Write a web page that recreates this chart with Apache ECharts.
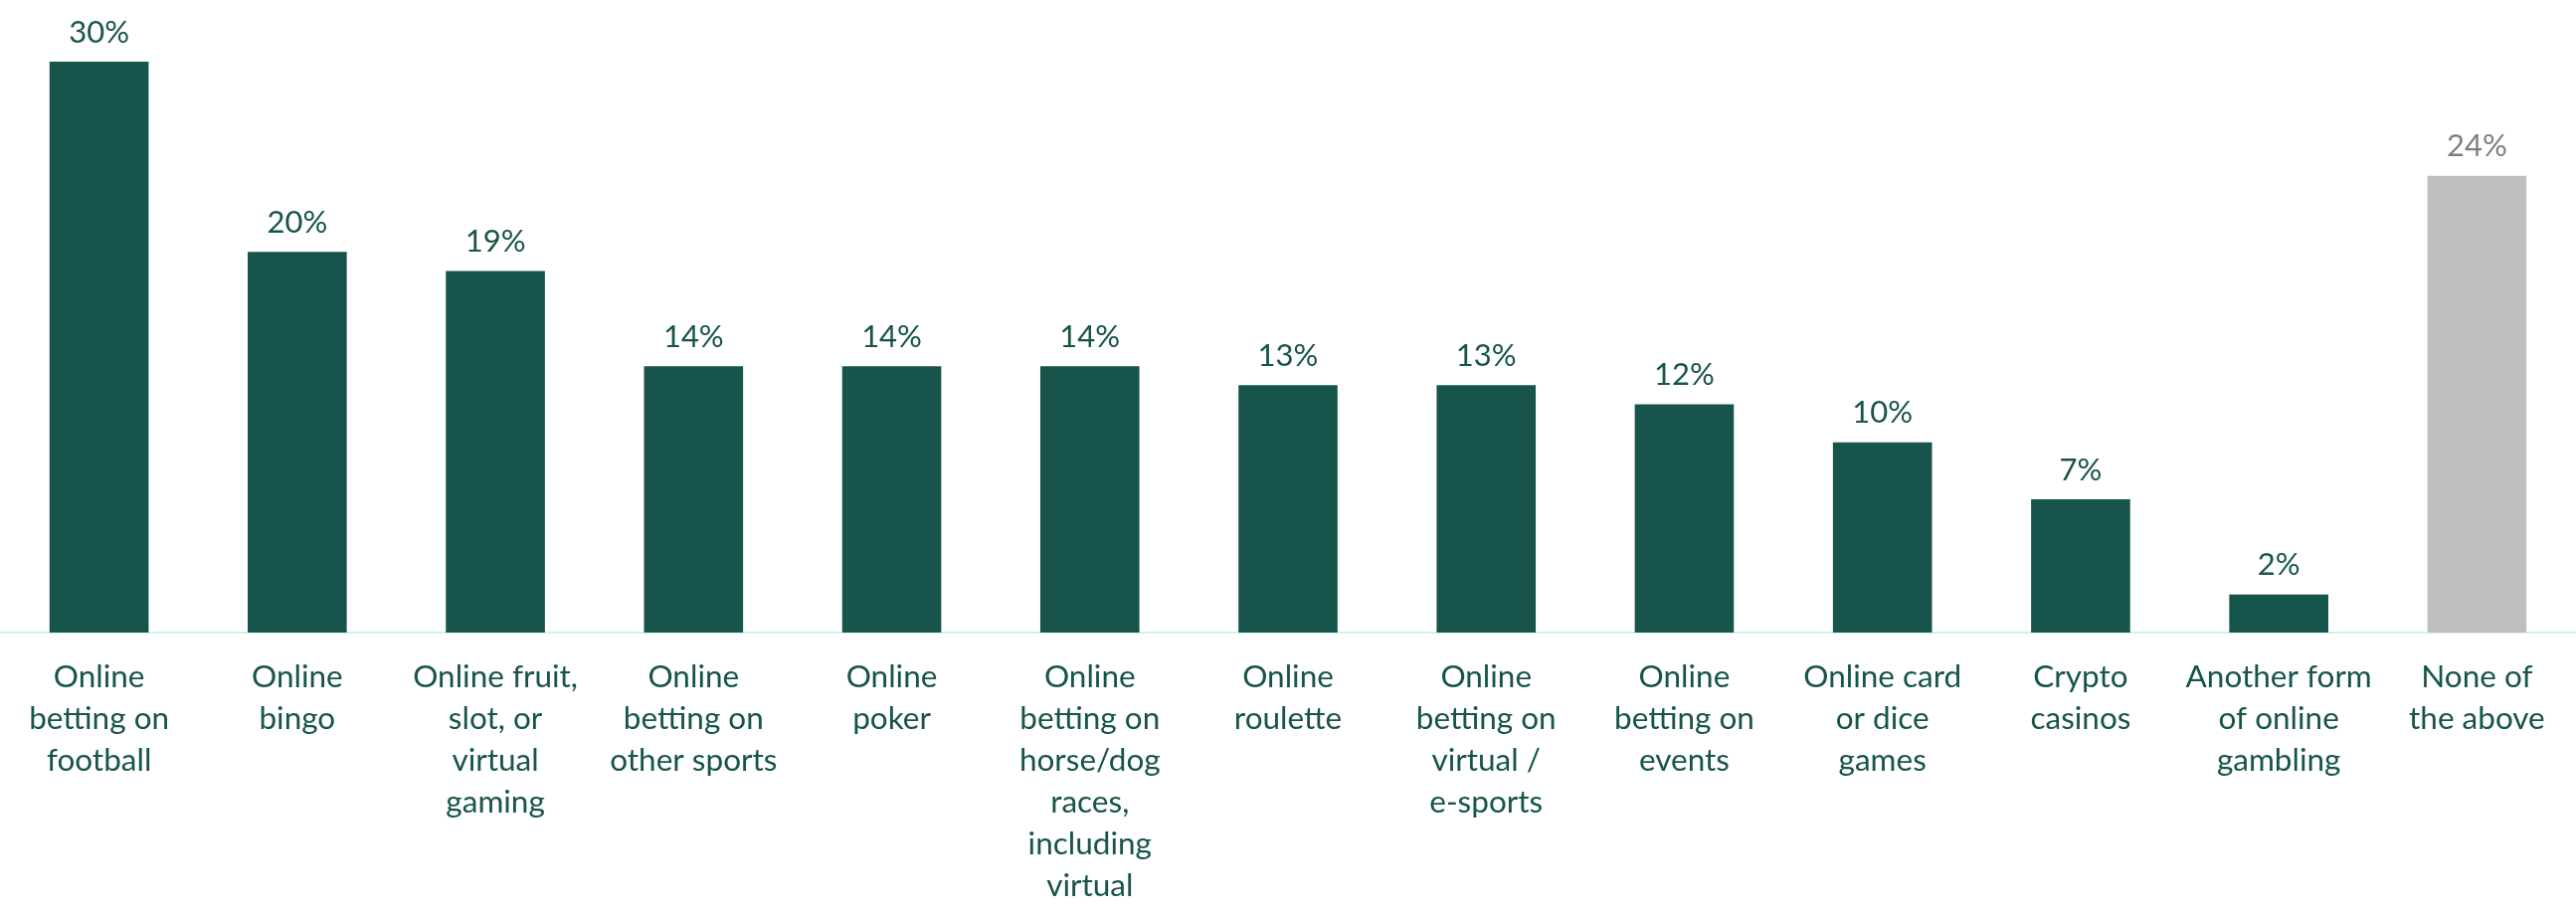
<!DOCTYPE html>
<html>
<head>
<meta http-equiv="Content-Type" content="text/html; charset=utf-8" />
<title>Online gambling activities</title>
<style type="text/css">
html,body{margin:0;padding:0;background:#fff;}
#chart{width:2590px;height:920px;}
</style>
<script src="https://cdn.jsdelivr.net/npm/echarts@6/dist/echarts.min.js" type="text/javascript"></script>
</head>
<body>
<div id="chart"></div>
<script type="text/javascript">
// categories (line breaks as in the original)
var categories = [
    'Online\nbetting on\nfootball',
    'Online\nbingo',
    'Online fruit,\nslot, or\nvirtual\ngaming',
    'Online\nbetting on\nother sports',
    'Online\npoker',
    'Online\nbetting on\nhorse/dog\nraces,\nincluding\nvirtual',
    'Online\nroulette',
    'Online\nbetting on\nvirtual /\ne-sports',
    'Online\nbetting on\nevents',
    'Online card\nor dice\ngames',
    'Crypto\ncasinos',
    'Another form\nof online\ngambling',
    'None of\nthe above'
];
var values = [30, 20, 19, 14, 14, 14, 13, 13, 12, 10, 7, 2, 24];
// last bar ("None of the above") drawn in grey
var greyIndex = [12];

var green = '#17544B';
var grey = '#BFBFBF';
var greyText = '#7F7F7F';
var font = 'Lato, "Open Sans", sans-serif';

var myChart = echarts.init(document.getElementById('chart'));

var barData = values.map(function (v, i) {
    var isGrey = greyIndex.indexOf(i) >= 0;
    return {
        value: v,
        itemStyle: { color: isGrey ? grey : green },
        label: { color: isGrey ? greyText : green }
    };
});

var option = {
    animation: false,
    backgroundColor: '#ffffff',
    grid: {
        left: 0,
        right: 0,
        top: 62,
        bottom: 284,
        containLabel: false
    },
    xAxis: {
        type: 'category',
        data: categories,
        axisTick: { show: false },
        axisLine: { lineStyle: { color: '#D2F1EE', width: 2 } },
        axisLabel: {
            interval: 0,
            color: green,
            fontFamily: font,
            fontSize: 31.5,
            lineHeight: 42,
            margin: 24,
            align: 'center'
        }
    },
    yAxis: {
        type: 'value',
        min: 0,
        max: 30,
        show: false,
        splitLine: { show: false }
    },
    series: [
        {
            type: 'bar',
            data: barData,
            barWidth: '50%',
            label: {
                show: true,
                position: 'top',
                distance: 14,
                fontFamily: font,
                fontSize: 31,
                formatter: '{c}%'
            }
        }
    ]
};
myChart.setOption(option);
</script>
</body>
</html>
